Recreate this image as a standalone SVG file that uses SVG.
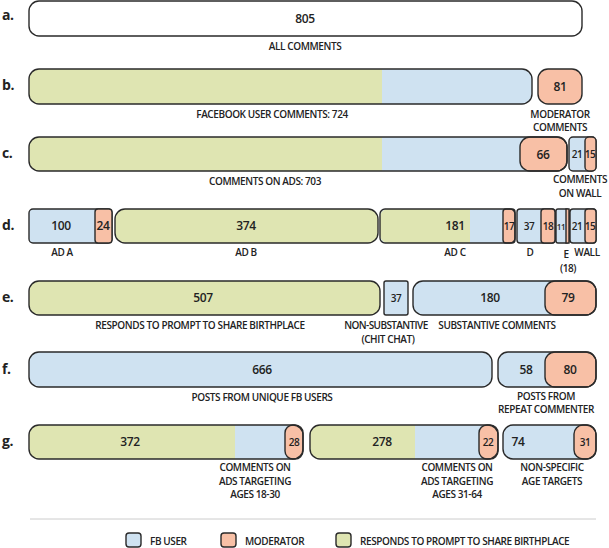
<svg xmlns="http://www.w3.org/2000/svg" width="609" height="548" viewBox="0 0 609 548">
<style>
text{font-family:"Open Sans","Liberation Sans",sans-serif;font-size:10px;font-weight:600;fill:#222;text-anchor:middle;letter-spacing:-0.4px}
.row{font-size:14px;font-weight:700;text-anchor:start}
.n{font-size:12px}
.b{fill:#cfe2f1}.o{fill:#f8c0a6}.g{fill:#dfe5b2}.w{fill:#fff}
.s{fill:none;stroke:#2a2a2a;stroke-width:1.4}
.os{fill:#f8c0a6;stroke:#2a2a2a;stroke-width:1.4}
.bs{fill:#cfe2f1;stroke:#2a2a2a;stroke-width:1.4}
.gs{fill:#dfe5b2;stroke:#2a2a2a;stroke-width:1.4}
.ws{fill:#fff;stroke:#2a2a2a;stroke-width:1.4}
</style>
<rect width="609" height="548" fill="#fff"/>
<g id="rowlabels">
<text class="row" x="2" y="20">a.</text><text class="row" x="2" y="90">b.</text><text class="row" x="2" y="158">c.</text><text class="row" x="2" y="230">d.</text><text class="row" x="2" y="302">e.</text><text class="row" x="2" y="374">f.</text><text class="row" x="2" y="446">g.</text>
</g>
<g id="a"><rect x="29" y="1" width="553" height="35" rx="10" class="ws"/><text class="n" x="305" y="23">805</text><text x="305" y="50">ALL COMMENTS</text></g>
<g id="b">
<rect x="29" y="69" width="503" height="35" rx="10" class="b"/><path d="M39 69H382V104H39A10 10 0 0 1 29 94V79A10 10 0 0 1 39 69Z" class="g"/><rect x="29" y="69" width="503" height="35" rx="10" class="s"/>
<rect x="538" y="69" width="44" height="35" rx="10" class="os"/><text class="n" x="560" y="91">81</text>
<text x="272" y="118">FACEBOOK USER COMMENTS:  724</text><text x="560" y="118">MODERATOR</text><text x="560" y="131">COMMENTS</text></g>
<g id="c">
<rect x="29" y="137" width="538" height="34" rx="10" class="b"/><path d="M39 137H382V171H39A10 10 0 0 1 29 161V147A10 10 0 0 1 39 137Z" class="g"/>
<rect x="520" y="137" width="47" height="34" rx="10" class="os"/><rect x="29" y="137" width="538" height="34" rx="10" class="s"/><text class="n" x="543" y="159">66</text>
<rect x="569" y="137" width="27" height="34" rx="4" class="bs"/><rect x="585" y="137" width="11" height="34" rx="4" class="os"/><text x="577" y="158">21</text><text x="590" y="158">15</text>
<text x="265" y="185">COMMENTS ON ADS: 703</text><text x="580" y="183">COMMENTS</text><text x="580" y="197">ON WALL</text></g>
<g id="d">
<rect x="29" y="209" width="83" height="34" rx="4" class="bs"/><rect x="95" y="209" width="17" height="34" rx="3" class="os"/><text class="n" x="61" y="230">100</text><text class="n" x="103" y="230">24</text>
<rect x="115" y="209" width="263" height="34" rx="10" class="gs"/><text class="n" x="246" y="230">374</text>
<rect x="380" y="209" width="135" height="34" rx="5" class="b"/><path d="M388 209H470V243H388A8 8 0 0 1 380 235V217A8 8 0 0 1 388 209Z" class="g"/><rect x="503" y="209" width="12" height="34" rx="3" class="os"/><rect x="380" y="209" width="135" height="34" rx="5" class="s"/><text class="n" x="455" y="230">181</text><text x="509" y="230">17</text>
<rect x="517" y="209" width="38" height="34" rx="3" class="bs"/><rect x="541" y="209" width="14" height="34" rx="3" class="os"/><text x="529" y="230">37</text><text x="548" y="230">18</text>
<rect x="556" y="209" width="13" height="34" rx="2" class="bs"/><rect x="566" y="209" width="3" height="34" class="os"/><text x="561" y="230" style="font-size:8px">11</text>
<rect x="570" y="209" width="26" height="34" rx="3" class="bs"/><rect x="585" y="209" width="11" height="34" rx="3" class="os"/><text x="577" y="230">21</text><text x="590" y="230">15</text>
<text x="62" y="256">AD A</text><text x="246" y="256">AD B</text><text x="455" y="256">AD C</text><text x="530" y="256">D</text><text x="566" y="258">E</text><text x="568" y="272">(18)</text><text x="587" y="256">WALL</text></g>
<g id="e">
<rect x="29" y="281" width="351" height="34" rx="10" class="gs"/><text class="n" x="203" y="302">507</text>
<rect x="384" y="281" width="24" height="34" rx="2" class="bs"/><text x="396" y="302">37</text>
<rect x="413" y="281" width="183" height="34" rx="10" class="b"/><rect x="545" y="281" width="51" height="34" rx="10" class="os"/><rect x="413" y="281" width="183" height="34" rx="10" class="s"/><text class="n" x="490" y="302">180</text><text class="n" x="568" y="302">79</text>
<text x="200" y="329">RESPONDS TO PROMPT TO SHARE BIRTHPLACE</text><text x="386" y="329" style="letter-spacing:-0.6px">NON-SUBSTANTIVE</text><text x="388" y="343">(CHIT CHAT)</text><text x="497" y="329">SUBSTANTIVE COMMENTS</text></g>
<g id="f">
<rect x="29" y="352" width="463" height="35" rx="10" class="bs"/><text class="n" x="262" y="374">666</text>
<rect x="498" y="352" width="98" height="35" rx="10" class="b"/><rect x="545" y="352" width="51" height="35" rx="10" class="os"/><rect x="498" y="352" width="98" height="35" rx="10" class="s"/><text class="n" x="526" y="374">58</text><text class="n" x="570" y="374">80</text>
<text x="262" y="401">POSTS FROM UNIQUE FB USERS</text><text x="546" y="400">POSTS FROM</text><text x="546" y="413">REPEAT COMMENTER</text></g>
<g id="g">
<rect x="29" y="425" width="274" height="34" rx="10" class="b"/><path d="M39 425H235V459H39A10 10 0 0 1 29 449V435A10 10 0 0 1 39 425Z" class="g"/><rect x="285" y="425" width="18" height="34" rx="8" class="os"/><rect x="29" y="425" width="274" height="34" rx="10" class="s"/><text class="n" x="130" y="446">372</text><text x="294" y="446">28</text>
<rect x="310" y="425" width="188" height="34" rx="10" class="b"/><path d="M320 425H415V459H320A10 10 0 0 1 310 449V435A10 10 0 0 1 320 425Z" class="g"/><rect x="479" y="425" width="19" height="34" rx="8" class="os"/><rect x="310" y="425" width="188" height="34" rx="10" class="s"/><text class="n" x="382" y="446">278</text><text x="488" y="446">22</text>
<rect x="503" y="425" width="93" height="34" rx="10" class="b"/><rect x="574" y="425" width="22" height="34" rx="9" class="os"/><rect x="503" y="425" width="93" height="34" rx="10" class="s"/><text class="n" x="518" y="446">74</text><text x="585" y="446">31</text>
<text x="255" y="471">COMMENTS ON</text><text x="255" y="484.5">ADS TARGETING</text><text x="255" y="498">AGES 18-30</text>
<text x="457" y="471">COMMENTS ON</text><text x="457" y="484.5">ADS TARGETING</text><text x="457" y="498">AGES 31-64</text>
<text x="552" y="471">NON-SPECIFIC</text><text x="552" y="484.5">AGE TARGETS</text></g>
<g id="connectors"><line x1="30" y1="519" x2="596" y2="519" stroke="#ccc" stroke-width="1"/></g>
<g id="legend">
<rect x="126" y="533" width="15" height="14" rx="3" class="bs"/><text x="150" y="545" style="text-anchor:start">FB USER</text>
<rect x="221" y="533" width="15" height="14" rx="3" class="os"/><text x="245" y="545" style="text-anchor:start">MODERATOR</text>
<rect x="336" y="533" width="15" height="14" rx="3" class="gs"/><text x="360" y="545" style="text-anchor:start">RESPONDS TO PROMPT TO SHARE BIRTHPLACE</text>
</g>
</svg>
